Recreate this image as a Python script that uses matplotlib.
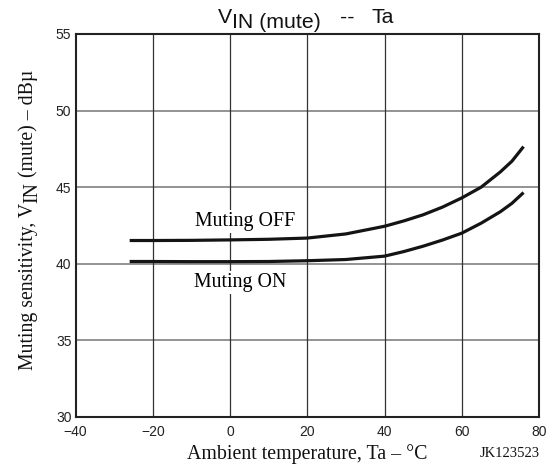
import matplotlib
matplotlib.use("Agg")
import matplotlib.pyplot as plt

# Muting sensitivity vs ambient temperature
temp_c = [-26, -20, -10, 0, 10, 20, 30, 40, 45, 50, 55, 60, 65, 70, 73, 76]
muting_off = [41.52, 41.52, 41.53, 41.56, 41.60, 41.68, 41.95, 42.45, 42.80,
              43.20, 43.70, 44.30, 45.00, 46.00, 46.70, 47.65]
muting_on = [40.15, 40.15, 40.14, 40.14, 40.15, 40.20, 40.28, 40.50, 40.80,
             41.15, 41.55, 42.00, 42.65, 43.40, 43.95, 44.65]

x_ticks = [-40, -20, 0, 20, 40, 60, 80]
x_tick_labels = ["\u221240", "\u221220", "0", "20", "40", "60", "80"]
y_ticks = [30, 35, 40, 45, 50, 55]
y_tick_labels = ["30", "35", "40", "45", "50", "55"]

SERIF = "Liberation Serif"
SANS = "Liberation Sans"

W_PX, H_PX = 547, 466
fig = plt.figure(figsize=(W_PX / 100, H_PX / 100), dpi=100)

left, right, top, bottom = 75.6, 539.0, 34.0, 417.0
ax = fig.add_axes([left / W_PX, 1 - bottom / H_PX,
                   (right - left) / W_PX, (bottom - top) / H_PX])
ax.set_xlim(-40, 80)
ax.set_ylim(30, 55)

# grid: grey horizontals, dark verticals
for y in y_ticks[1:-1]:
    ax.axhline(y, color="#8a8a8a", lw=1.3, zorder=1)
for x in x_ticks[1:-1]:
    ax.axvline(x, color="#333333", lw=0.9, zorder=1)

ax.plot(temp_c, muting_off, color="#141414", lw=2.3, solid_capstyle="butt",
        solid_joinstyle="round", zorder=3)
ax.plot(temp_c, muting_on, color="#141414", lw=2.3, solid_capstyle="butt",
        solid_joinstyle="round", zorder=3)

box = dict(facecolor="white", edgecolor="none", pad=1.5)
ax.text(3.9, 42.73, "Muting OFF", family=SERIF, size=14.3, ha="center",
        va="center", bbox=box, zorder=4)
ax.text(2.7, 38.8, "Muting ON", family=SERIF, size=14.3, ha="center",
        va="center", bbox=box, zorder=4)

ax.set_xticks(x_ticks)
ax.set_xticklabels(x_tick_labels, family=SANS, size=10)
ax.set_yticks(y_ticks)
ax.set_yticklabels(y_tick_labels, family=SANS, size=10)
ax.tick_params(axis="x", length=0, pad=6, colors="#222222")
ax.tick_params(axis="y", length=0, pad=3, colors="#222222")
for s in ax.spines.values():
    s.set_linewidth(1.5)
    s.set_color("#222222")
    s.set_zorder(5)


def at(xp, yp):
    return xp / W_PX, 1 - yp / H_PX


# title with level-shifted "IN (mute)"
title_kw = dict(family=SANS, size=15.3, ha="left", va="baseline", color="#111111")
fig.text(*at(218, 22.6), "V", **title_kw)
fig.text(*at(232, 27.6), "IN (mute)", **title_kw)
fig.text(*at(340, 22.6), "--", **title_kw)
fig.text(*at(372, 22.6), "Ta", **title_kw)

# x label
fig.text(*at(307, 458.5), "Ambient temperature, Ta \u2013 \u00b0C", family=SERIF,
         size=14.3, ha="center", va="baseline", color="#111111")
fig.text(*at(540, 457), "JK123523", family=SERIF, size=10.5, ha="right",
         va="baseline", color="#111111")

# rotated y label built from pieces so "IN" sits lower
fig.canvas.draw()
renderer = fig.canvas.get_renderer()
ylab_kw = dict(family=SERIF, size=14.2, rotation=90, rotation_mode="anchor",
               ha="left", va="baseline", color="#111111")
y_cur = 370.0
for piece, shift in [("Muting sensitivity, V", 0.0), ("IN", 4.0),
                     (" (mute) \u2013 dB\u00b5", 0.0)]:
    t = fig.text(*at(33 + shift, y_cur), piece, **ylab_kw)
    bb = t.get_window_extent(renderer)
    y_cur -= bb.height

fig.savefig("out.png", dpi=100)
